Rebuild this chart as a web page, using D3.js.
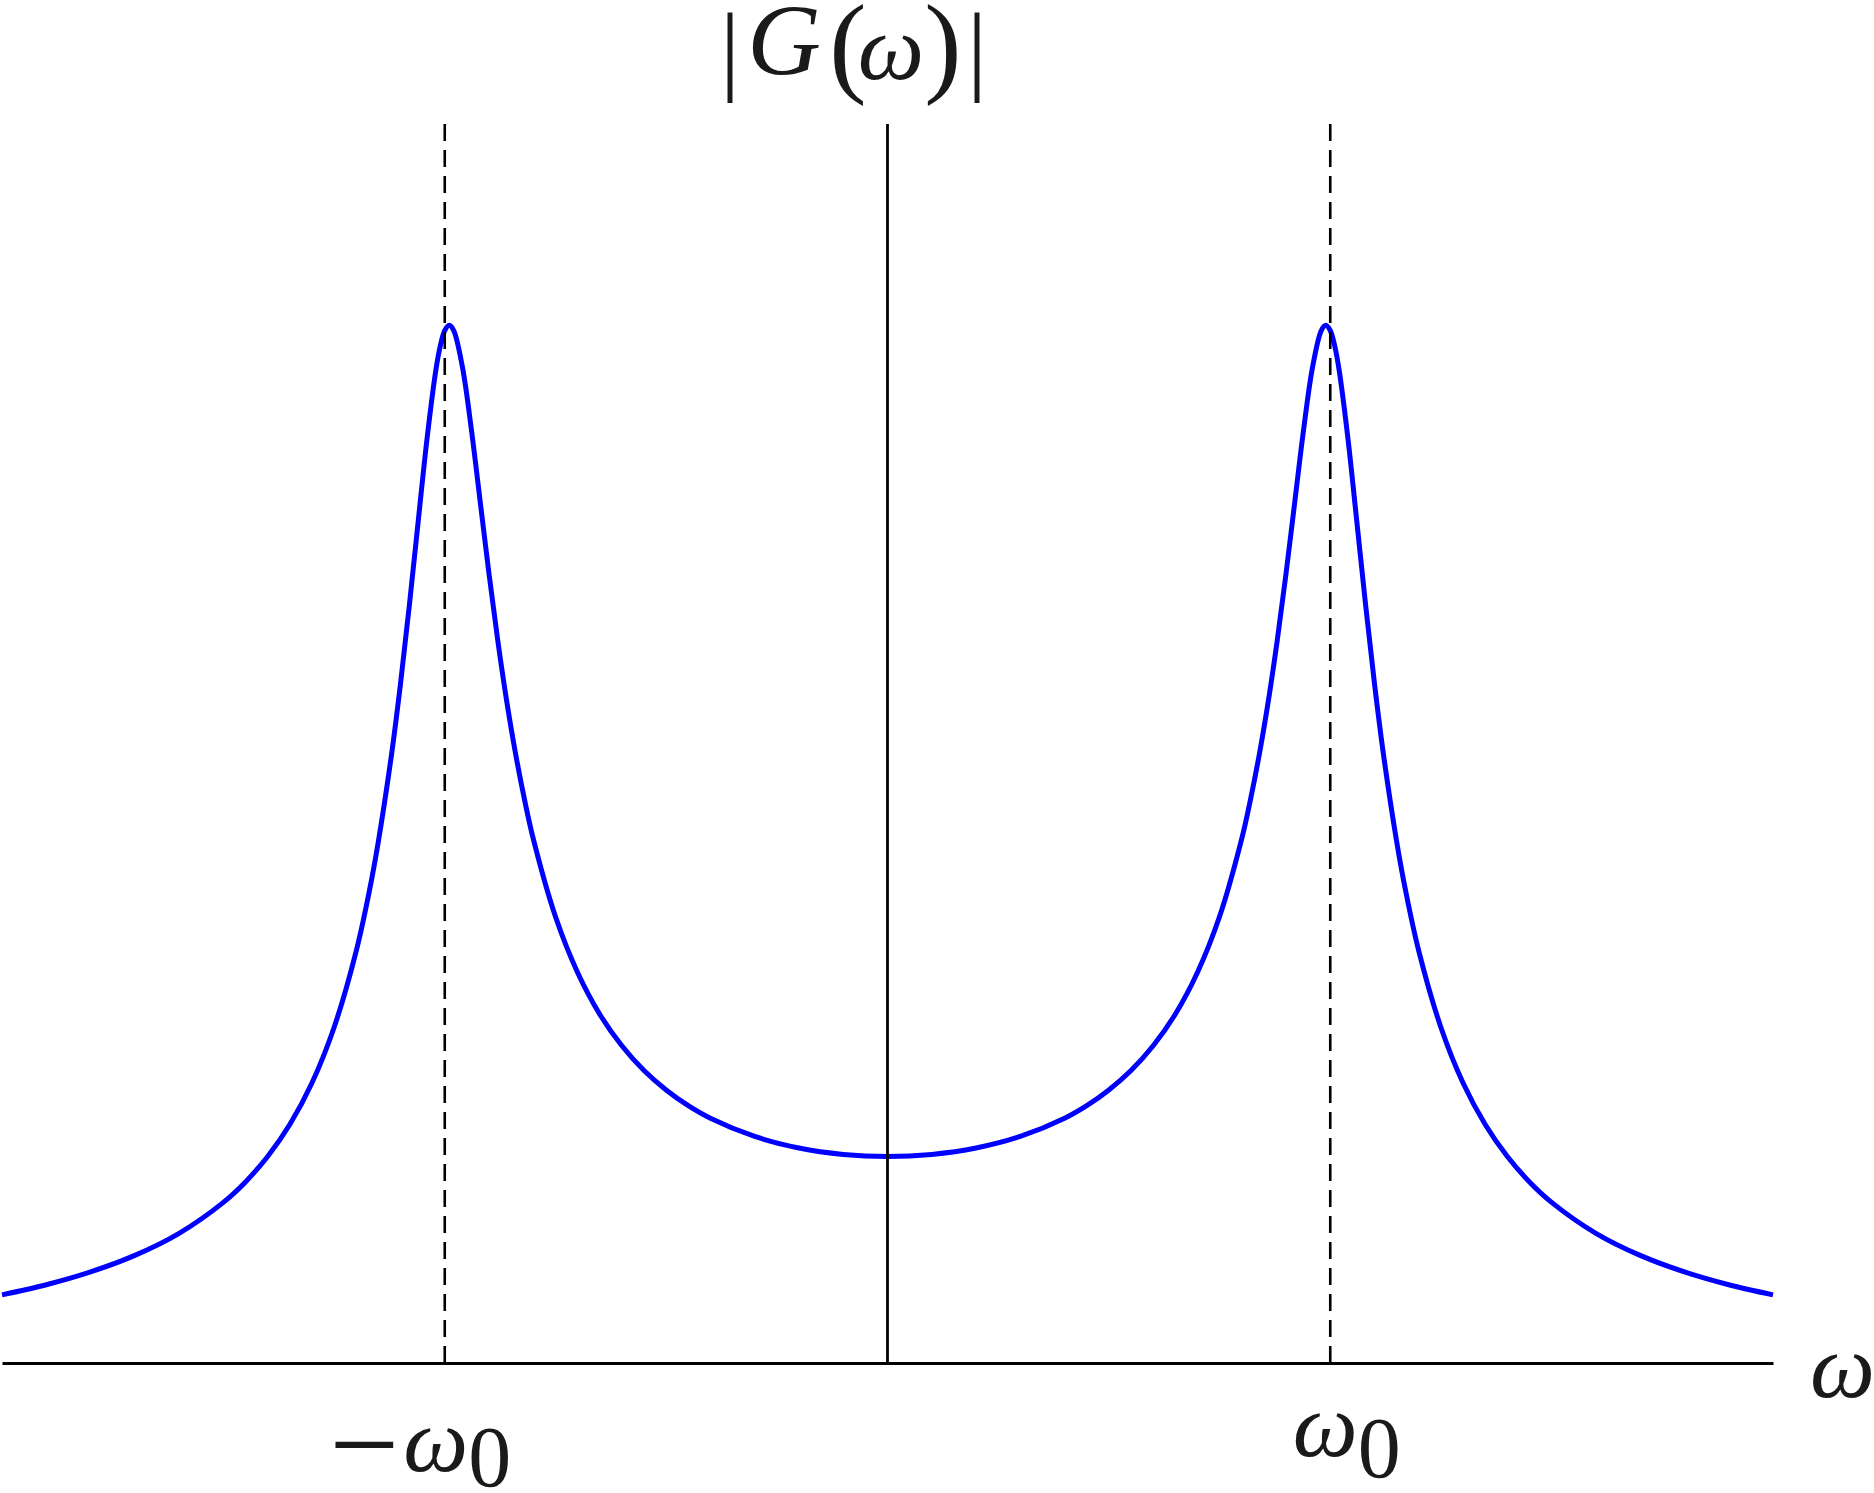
<!DOCTYPE html>
<html>
<head>
<meta charset="utf-8">
<script src="https://cdn.jsdelivr.net/npm/d3@7"></script>
<style>
  body { margin: 0; background: #fff; }
  svg { display: block; }
  .serif { font-family: "Liberation Serif", "DejaVu Serif", serif; fill: #1a1a1a; }
</style>
</head>
<body>
<svg id="chart" width="1874" height="1493"></svg>
<script>
// frequency (in units of omega_0) and |G|
var omega = [-2, -1.9, -1.8, -1.7, -1.6, -1.5, -1.45, -1.4, -1.35, -1.3, -1.25, -1.2, -1.17, -1.15, -1.12, -1.1,
    -1.08, -1.06, -1.04, -1.02, -1.01, -1, -0.99, -0.98, -0.96, -0.94, -0.92, -0.9, -0.88, -0.86, -0.84, -0.82,
    -0.8, -0.75, -0.7, -0.65, -0.6, -0.55, -0.5, -0.45, -0.4, -0.3, -0.2, -0.1,
    0,
    0.1, 0.2, 0.3, 0.4, 0.45, 0.5, 0.55, 0.6, 0.65, 0.7, 0.75, 0.8, 0.82, 0.84, 0.86, 0.88, 0.9, 0.92, 0.94,
    0.96, 0.98, 0.99, 1, 1.01, 1.02, 1.04, 1.06, 1.08, 1.1, 1.12, 1.15, 1.17, 1.2, 1.25, 1.3, 1.35, 1.4, 1.45,
    1.5, 1.6, 1.7, 1.8, 1.9, 2];
var gain = [0.330, 0.379, 0.441, 0.521, 0.628, 0.778, 0.877, 1.000, 1.155, 1.356, 1.625, 1.995, 2.289, 2.525, 2.950, 3.288,
    3.668, 4.075, 4.476, 4.809, 4.926, 5.000, 5.025, 5.001, 4.822, 4.523, 4.172, 3.821, 3.495, 3.204, 2.950, 2.730,
    2.538, 2.162, 1.891, 1.689, 1.536, 1.416, 1.322, 1.246, 1.185, 1.097, 1.041, 1.010,
    1.000,
    1.010, 1.041, 1.097, 1.185, 1.246, 1.322, 1.416, 1.536, 1.689, 1.891, 2.162, 2.538, 2.730, 2.950, 3.204, 3.495, 3.821, 4.172, 4.523,
    4.822, 5.001, 5.025, 5.000, 4.926, 4.809, 4.476, 4.075, 3.668, 3.288, 2.950, 2.525, 2.289, 1.995, 1.625, 1.356, 1.155, 1.000, 0.877,
    0.778, 0.628, 0.521, 0.441, 0.379, 0.330];
var resonances = [-1, 1];
var tickLabels = [["\u2212", "\u03C9", "0"], ["", "\u03C9", "0"]];

var svg = d3.select("#chart");
var x = d3.scaleLinear().domain([-2, 2]).range([2, 1773]);
var y = d3.scaleLinear().domain([0, 6]).range([1363, 124]);

// curve
svg.append("path")
    .datum(omega.map((w, i) => [w, gain[i]]))
    .attr("fill", "none")
    .attr("stroke", "#0000ff")
    .attr("stroke-width", 5)
    .attr("d", d3.line().x(d => x(d[0])).y(d => y(d[1])).curve(d3.curveCatmullRom));

// dashed verticals at +-omega0
svg.selectAll("line.res")
    .data(resonances)
    .join("line").attr("class", "res")
    .attr("x1", d => x(d)).attr("x2", d => x(d))
    .attr("y1", y(6)).attr("y2", y(0))
    .attr("stroke", "#000")
    .attr("stroke-width", 2.6)
    .attr("stroke-dasharray", "17,9");

// vertical axis
svg.append("line")
    .attr("x1", x(0)).attr("x2", x(0))
    .attr("y1", y(6)).attr("y2", y(0))
    .attr("stroke", "#000")
    .attr("stroke-width", 2.8);

// horizontal axis
var xaxis = svg.append("g")
    .attr("transform", "translate(0," + y(0) + ")")
    .call(d3.axisBottom(x).tickValues(resonances).tickSize(0).tickSizeOuter(0).tickFormat(""));
xaxis.select(".domain").attr("stroke", "#000").attr("stroke-width", 3.2);

var offs = [{dx: -116, dy: 108, gap: 4, sub: 15, minus: 15}, {dx: -38, dy: 93, gap: 0, sub: 21, minus: 0}];
xaxis.selectAll(".tick text").each(function(d, i) {
    var o = offs[i];
    var t = d3.select(this)
        .attr("class", "serif")
        .attr("text-anchor", "start")
        .attr("fill", null)
        .attr("y", o.dy).attr("dy", 0).attr("x", o.dx)
        .style("font-size", "92px");
    t.text(null);
    if (tickLabels[i][0]) t.append("tspan").attr("dy", o.minus).text(tickLabels[i][0]).style("font-size", "124px");
    t.append("tspan").attr("dx", o.gap).attr("dy", -o.minus).style("font-style", "italic").text(tickLabels[i][1]);
    t.append("tspan").attr("dy", o.sub).style("font-size", "86px").text(tickLabels[i][2]);
});

// axis name
svg.append("text").attr("class", "serif")
    .attr("x", 1810).attr("y", 1397)
    .style("font-size", "92px").style("font-style", "italic")
    .text("\u03C9");

// title |G(w)|
var title = [
    {s: "|", x: 730, y: 82, size: 100, it: false},
    {s: "G", x: 784, y: 75, size: 102, it: true},
    {s: "(", x: 848, y: 82, size: 112, it: false},
    {s: "\u03C9", x: 891, y: 79, size: 94, it: true},
    {s: ")", x: 943, y: 82, size: 112, it: false},
    {s: "|", x: 977, y: 82, size: 100, it: false}
];
svg.selectAll("text.title")
    .data(title)
    .join("text").attr("class", "title serif")
    .attr("x", d => d.x).attr("y", d => d.y)
    .attr("text-anchor", "middle")
    .style("font-size", d => d.size + "px")
    .style("font-style", d => d.it ? "italic" : "normal")
    .text(d => d.s);
</script>
</body>
</html>
